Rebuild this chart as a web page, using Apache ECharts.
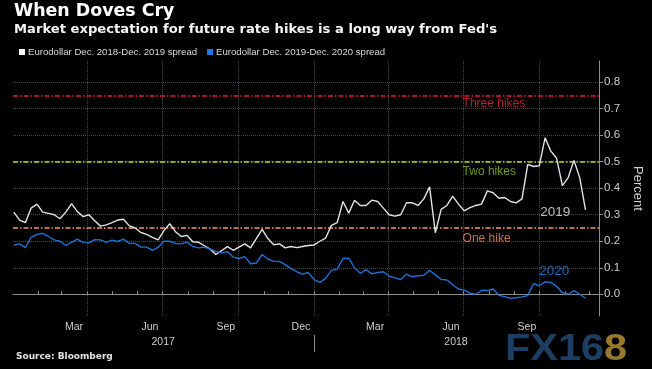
<!DOCTYPE html>
<html><head><meta charset="utf-8">
<script src="https://cdn.jsdelivr.net/npm/echarts@6/dist/echarts.min.js"></script>
<style>html,body{margin:0;padding:0;background:#000;}#c{width:652px;height:369px;}</style>
</head><body><div id="c"></div>
<script>
// ---- data ----
const weekDates = [
'2017-01-02','2017-01-09','2017-01-16','2017-01-23','2017-01-30','2017-02-06','2017-02-13','2017-02-20','2017-02-27','2017-03-06',
'2017-03-13','2017-03-20','2017-03-27','2017-04-03','2017-04-10','2017-04-17','2017-04-24','2017-05-01','2017-05-08','2017-05-15',
'2017-05-22','2017-05-29','2017-06-05','2017-06-12','2017-06-19','2017-06-26','2017-07-03','2017-07-10','2017-07-17','2017-07-24',
'2017-07-31','2017-08-07','2017-08-14','2017-08-21','2017-08-28','2017-09-04','2017-09-11','2017-09-18','2017-09-25','2017-10-02',
'2017-10-09','2017-10-16','2017-10-23','2017-10-30','2017-11-06','2017-11-13','2017-11-20','2017-11-27','2017-12-04','2017-12-11',
'2017-12-18','2017-12-25','2018-01-01','2018-01-08','2018-01-15','2018-01-22','2018-01-29','2018-02-05','2018-02-12','2018-02-19',
'2018-02-26','2018-03-05','2018-03-12','2018-03-19','2018-03-26','2018-04-02','2018-04-09','2018-04-16','2018-04-23','2018-04-30',
'2018-05-07','2018-05-14','2018-05-21','2018-05-28','2018-06-04','2018-06-11','2018-06-18','2018-06-25','2018-07-02','2018-07-09',
'2018-07-16','2018-07-23','2018-07-30','2018-08-06','2018-08-13','2018-08-20','2018-08-27','2018-09-03','2018-09-10','2018-09-17',
'2018-09-24','2018-10-01','2018-10-08','2018-10-15','2018-10-22','2018-10-29','2018-11-05','2018-11-12','2018-11-19','2018-11-26'
];
const spread2019 = [
0.31,0.28,0.27,0.325,0.34,0.31,0.305,0.30,0.285,0.31,
0.342,0.312,0.293,0.30,0.277,0.257,0.262,0.27,0.28,0.283,
0.258,0.25,0.233,0.226,0.215,0.205,0.24,0.266,0.236,0.218,
0.222,0.198,0.196,0.183,0.17,0.15,0.165,0.18,0.166,0.178,
0.19,0.175,0.21,0.245,0.21,0.187,0.19,0.175,0.18,0.176,
0.18,0.184,0.186,0.2,0.212,0.26,0.27,0.35,0.306,0.355,
0.335,0.335,0.355,0.35,0.325,0.30,0.295,0.30,0.345,0.345,
0.335,0.36,0.405,0.232,0.32,0.335,0.37,0.34,0.315,0.327,
0.335,0.34,0.39,0.383,0.362,0.365,0.35,0.345,0.36,0.49,
0.482,0.485,0.59,0.54,0.513,0.41,0.44,0.505,0.44,0.318
];
const spread2020 = [
0.186,0.19,0.176,0.215,0.226,0.23,0.218,0.205,0.2,0.184,
0.196,0.208,0.195,0.194,0.206,0.205,0.196,0.204,0.199,0.208,
0.192,0.192,0.178,0.178,0.166,0.177,0.2,0.2,0.192,0.19,
0.197,0.18,0.175,0.178,0.17,0.162,0.156,0.161,0.14,0.135,
0.142,0.115,0.118,0.15,0.132,0.125,0.124,0.112,0.097,0.085,
0.076,0.082,0.055,0.045,0.06,0.09,0.095,0.135,0.136,0.1,
0.079,0.093,0.077,0.082,0.085,0.068,0.062,0.055,0.076,0.066,
0.07,0.072,0.09,0.073,0.056,0.054,0.036,0.02,0.016,0.004,
0.0,0.015,0.014,0.02,-0.004,-0.009,-0.015,-0.013,-0.01,-0.005,
0.04,0.032,0.047,0.045,0.03,0.006,0.0,0.014,0.0,-0.015
];
const seriesNames = ['Eurodollar Dec. 2018-Dec. 2019 spread', 'Eurodollar Dec. 2019-Dec. 2020 spread'];
const yTickValues = [0, 0.1, 0.2, 0.3, 0.4, 0.5, 0.6, 0.7, 0.8];
const monthTickDates = ['2017-02-01','2017-03-01','2017-04-01','2017-05-01','2017-06-01','2017-07-01','2017-08-01','2017-09-01','2017-10-01','2017-11-01','2017-12-01',
  '2018-01-01','2018-02-01','2018-03-01','2018-04-01','2018-05-01','2018-06-01','2018-07-01','2018-08-01','2018-09-01','2018-10-01','2018-11-01','2018-12-01'];
const quarterGridDates = ['2017-04-01','2017-07-01','2017-10-01','2018-01-01','2018-04-01','2018-07-01','2018-10-01'];
const monthLabelDates = ['2017-03-16','2017-06-16','2017-09-16','2017-12-16','2018-03-16','2018-06-16','2018-09-16'];
const yearLabelDates = ['2017-07-02','2018-06-22'];
const yearDividerDates = ['2018-01-01'];
const hikeNames = ['Three hikes', 'Two hikes', 'One hike'];
const hikeLevels = [0.75, 0.5, 0.25];
const seriesEndLabels = ['2019', '2020'];

// ---- styles ----
const hikeColors = ['#e21f3d', '#b7dc2c', '#f2996a'];
const hikeTextColors = ['#d9283f', '#86bf1f', '#e8956b'];
const labelAnchors = [['2018-06-30', 0.718], ['2018-06-30', 0.462], ['2018-06-30', 0.209]];
const endAnchors = [['2018-10-02', 0.311], ['2018-10-01', 0.088]];
const seriesColors = ['#e2e2e2', '#1f70d2'];
const legendColors = ['#ffffff', '#1f7ae8'];
const endLabelColors = ['#e6e6e6', '#2c82e0'];

const ts = s => Date.parse(s + 'T00:00:00Z');
const monthNames = ['Jan','Feb','Mar','Apr','May','Jun','Jul','Aug','Sep','Oct','Nov','Dec'];
const xMin = ts('2017-01-01');
const xMax = ts('2018-12-12') + 12 * 3600 * 1000;
const axisColor = '#8c8c8c';
const textColor = '#cdcdcd';
const gridColor = '#474747';
const FONT = 'Liberation Sans';

const chart = echarts.init(document.getElementById('c'), null, {renderer: 'canvas'});

const annotationData = hikeNames.map((n, i) => ({
  value: [ts(labelAnchors[i][0]), labelAnchors[i][1]],
  label: {formatter: n, color: hikeTextColors[i], fontSize: 12}
})).concat(seriesEndLabels.map((n, i) => ({
  value: [ts(endAnchors[i][0]), endAnchors[i][1]],
  label: {formatter: n, color: endLabelColors[i], fontSize: 13.5}
})));

const option = {
  backgroundColor: '#000',
  animation: false,
  title: [
    {text: 'When Doves Cry', left: 14, top: 3, padding: 0,
     textStyle: {color: '#fff', fontSize: 17.4, fontWeight: 'bold', fontFamily: 'DejaVu Sans'}},
    {text: "Market expectation for future rate hikes is a long way from Fed's", left: 14, top: 23.5, padding: 0,
     textStyle: {color: '#f4f4f4', fontSize: 13.15, fontWeight: 'bold', fontFamily: 'DejaVu Sans'}}
  ],
  legend: {
    left: 19, top: 47, padding: 0, icon: 'rect', itemWidth: 6, itemHeight: 6, itemGap: 10,
    selectedMode: false, data: seriesNames,
    textStyle: {color: '#d8d8d8', fontSize: 9.6, fontFamily: FONT, padding: [0, 0, 0, -2]}
  },
  grid: {left: 13, right: 52, top: 61, bottom: 53},
  xAxis: [
    {
      type: 'value', min: xMin, max: xMax, position: 'bottom',
      axisLine: {show: true, lineStyle: {color: axisColor}},
      axisTick: {show: true, inside: true, length: 3, customValues: monthTickDates.map(ts), lineStyle: {color: axisColor}},
      axisLabel: {customValues: monthLabelDates.map(ts), formatter: v => monthNames[new Date(v).getUTCMonth()],
                  color: textColor, fontSize: 10.5, fontFamily: FONT, margin: 6},
      splitLine: {show: false}
    },
    {
      type: 'value', min: xMin, max: xMax, position: 'bottom',
      axisLine: {show: false},
      axisTick: {show: false, customValues: quarterGridDates.map(ts)},
      axisLabel: {show: false},
      splitLine: {show: true, lineStyle: {color: gridColor, type: 'dotted', width: 1}}
    },
    {
      type: 'value', min: xMin, max: xMax, position: 'bottom', offset: 19,
      axisLine: {show: false},
      axisTick: {show: true, length: 17, customValues: yearDividerDates.map(ts), lineStyle: {color: axisColor}},
      axisLabel: {customValues: yearLabelDates.map(ts), formatter: v => String(new Date(v).getUTCFullYear()),
                  color: textColor, fontSize: 10.5, fontFamily: FONT, margin: 2},
      splitLine: {show: false}
    }
  ],
  yAxis: {
    type: 'value', position: 'right', min: -0.082, max: 0.88,
    axisLine: {show: true, lineStyle: {color: axisColor}},
    axisTick: {show: true, length: 4, customValues: yTickValues, lineStyle: {color: axisColor}},
    axisLabel: {customValues: yTickValues, formatter: v => v.toFixed(1), color: textColor, fontSize: 11.5, fontFamily: FONT, margin: 5},
    splitLine: {show: true, lineStyle: {color: gridColor, type: 'dotted', width: 1}},
    name: 'Percent', nameLocation: 'middle', nameGap: 31, nameRotate: -90,
    nameTextStyle: {color: textColor, fontSize: 13, fontFamily: FONT}
  },
  series: [
    {
      name: seriesNames[0], type: 'line', xAxisIndex: 0, yAxisIndex: 0,
      data: weekDates.map((d, i) => [ts(d), spread2019[i]]),
      showSymbol: false, symbol: 'none', z: 4,
      lineStyle: {color: seriesColors[0], width: 1.4},
      itemStyle: {color: legendColors[0]},
      markLine: {
        silent: true, symbol: ['none', 'none'], label: {show: false}, z: 2,
        data: hikeLevels.map((v, i) => ({yAxis: v, lineStyle: {color: hikeColors[i], type: [5, 2, 1.5, 2], width: 1.5}}))
      }
    },
    {
      name: seriesNames[1], type: 'line', xAxisIndex: 0, yAxisIndex: 0,
      data: weekDates.map((d, i) => [ts(d), spread2020[i]]),
      showSymbol: false, symbol: 'none', z: 4,
      lineStyle: {color: seriesColors[1], width: 1.4},
      itemStyle: {color: legendColors[1]}
    },
    {
      name: 'annotations', type: 'scatter', xAxisIndex: 0, yAxisIndex: 0, silent: true,
      symbolSize: 0, z: 5,
      label: {show: true, position: 'right', distance: 0, fontFamily: FONT},
      data: annotationData
    }
  ],
  graphic: [
    {type: 'text', left: 16, top: 352, style: {text: 'Source: Bloomberg', fill: '#e2e2e2', font: 'bold 9px "DejaVu Sans"'}},
    {type: 'text', x: 505, y: 331, scaleX: 1.12, scaleY: 1,
     style: {text: '{a|FX16}{b|8}', rich: {
       a: {fill: '#1c3e62', font: 'bold 37px "Liberation Sans"'},
       b: {fill: '#98782e', font: 'bold 37px "Liberation Sans"'}
     }}}
  ]
};
chart.setOption(option);
</script>
</body></html>
